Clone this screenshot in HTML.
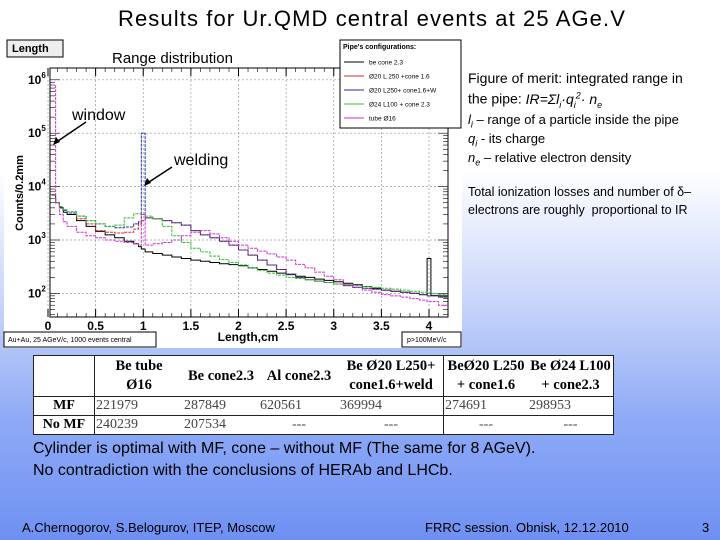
<!DOCTYPE html>
<html><head><meta charset="utf-8">
<style>
body{margin:0;width:720px;height:540px;overflow:hidden;position:relative;font-family:"Liberation Sans",sans-serif;
background:linear-gradient(180deg,#ffffff 0px,#ffffff 170px,#c9d6fb 300px,#8eaaf6 420px,#6f90f2 540px);}
.t{position:absolute;white-space:nowrap;color:#000}
table{border-collapse:collapse;font-family:"Liberation Serif",serif}
</style></head><body>
<div class="t" style="left:0;width:744px;text-align:center;top:6px;font-size:22px;letter-spacing:1.1px">Results for Ur.QMD central events at 25 AGe.V</div>

<svg style="position:absolute;left:0;top:0" width="470" height="352" id="chart"></svg>

<div class="t" style="left:468px;top:70px;font-size:14px">Figure of merit: integrated range in</div>
<div class="t" style="left:468px;top:90px;font-size:14px">the pipe: <i>IR=Σl<sub style="font-size:9px">i</sub>·q<sub style="font-size:9px">i</sub><sup style="font-size:9px">2</sup>· n<sub style="font-size:9px">e</sub></i></div>
<div class="t" style="left:468px;top:112px;font-size:13px"><i>l<sub style="font-size:9px">i</sub></i> – range of a particle inside the pipe</div>
<div class="t" style="left:468px;top:131px;font-size:13px"><i>q<sub style="font-size:9px">i</sub></i> - its charge</div>
<div class="t" style="left:468px;top:150px;font-size:13px"><i>n<sub style="font-size:9px">e</sub></i> – relative electron density</div>
<div class="t" style="left:468px;top:185px;font-size:12.5px">Total ionization losses and number of δ–</div>
<div class="t" style="left:468px;top:203px;font-size:12.5px">electrons are roughly&nbsp; proportional to IR</div>

<table style="position:absolute;left:33px;top:355px;width:581px;background:#fff;border:1.5px solid #222">
<tr style="height:40px;font-weight:bold;font-size:14.5px;text-align:center;line-height:19px">
<td style="width:58px;border-right:1px solid #222"></td>
<td style="width:86px;vertical-align:top">Be tube<br>Ø16</td>
<td style="width:74px">Be cone2.3</td>
<td style="width:78px">Al cone2.3</td>
<td style="width:102px;border-right:1px solid #222">Be Ø20 L250+<br>cone1.6+weld</td>
<td style="width:82px;vertical-align:top">BeØ20 L250<br>+ cone1.6</td>
<td style="vertical-align:bottom">Be Ø24 L100<br>+ cone2.3</td></tr>
<tr style="height:19px;font-size:14px;color:#444;border-top:1px solid #222"><td style="border-right:1px solid #222;text-align:center;font-weight:bold;color:#000">MF</td><td>221979</td><td>287849</td><td>620561</td><td style="border-right:1px solid #222">369994</td><td>274691</td><td>298953</td></tr>
<tr style="height:17px;font-size:14px;color:#444;border-top:1px solid #222"><td style="border-right:1px solid #222;text-align:center;font-weight:bold;color:#000">No MF</td><td>240239</td><td>207534</td><td style="text-align:center">---</td><td style="border-right:1px solid #222;text-align:center">---</td><td style="text-align:center">---</td><td style="text-align:center">---</td></tr>
</table>

<div class="t" style="left:33px;top:440px;font-size:16px">Cylinder is optimal with MF, cone – without MF (The same for 8 AGeV).</div>
<div class="t" style="left:33px;top:462px;font-size:16px">No contradiction with the conclusions of HERAb and LHCb.</div>
<div class="t" style="left:22px;top:520px;font-size:13px">A.Chernogorov, S.Belogurov, ITEP, Moscow</div>
<div class="t" style="left:425px;top:520px;font-size:13px">FRRC session. Obnisk, 12.12.2010</div>
<div class="t" style="left:702px;top:520px;font-size:13px">3</div>

<script>
const edges=[0.04,0.08,0.12,0.16,0.2,0.3,0.4,0.5,0.6,0.7,0.8,0.9,0.95,0.98,1.02,1.1,1.2,1.3,1.4,1.5,1.6,1.7,1.8,1.9,2.0,2.1,2.2,2.3,2.4,2.5,2.6,2.7,2.8,2.9,3.0,3.1,3.2,3.3,3.4,3.5,3.6,3.7,3.8,3.9,3.98,4.02,4.1];
const beCone=[7000,5000,4000,3300,3000,2300,1800,1450,1250,1100,950,850,750,680,600,560,520,480,450,420,400,380,360,345,330,300,280,260,240,225,210,200,185,175,165,155,145,135,125,115,110,105,100,95,450,92,90];
const d20Cone=[6000,5000,4200,3600,3200,2500,2000,1500,1400,1350,1400,1600,2000,2300,2600,2500,2300,2100,1900,1500,1250,1100,950,800,650,520,420,340,280,230,200,180,170,160,150,140,130,125,120,115,110,105,100,95,90,90,85];
const d20ConeW=[6000,5000,4200,3600,3200,2800,2300,2000,1800,1700,1750,2000,2200,100000,2600,2500,2300,2100,1900,1500,1250,1100,950,800,650,520,420,340,280,230,200,180,170,160,150,140,130,125,120,115,110,105,100,95,90,90,85];
const d24Cone=[6000,5000,4200,3700,3400,2800,2300,2000,1800,1900,2600,3100,3100,3000,2800,2500,1800,1200,900,700,600,500,430,380,340,300,270,240,220,200,190,180,170,160,150,145,140,135,130,125,120,115,110,105,100,100,95];
const tube16=[800000,5000,3000,2200,1800,1400,1200,1100,1000,950,900,850,800,3000,800,850,900,1000,1200,1400,1500,1300,1100,950,800,700,620,550,480,420,350,300,250,210,180,150,130,115,105,95,90,85,80,75,70,70,60];
const xTicks=[0,0.5,1,1.5,2,2.5,3,3.5,4];
const yTicks=[2,3,4,5,6];
const legendLabels=["be cone 2.3","Ø20 L 250 +cone 1.6","Ø20 L250+ cone1.6+W","Ø24 L100 + cone 2.3","tube Ø16"];
const seriesColors=["#000","#d03030","#2030a0","#30c030","#d030d0"];

const svg=document.getElementById('chart');const NS="http://www.w3.org/2000/svg";
const X=v=>48+v*95.25, Y=v=>240-(Math.log10(v)-3)*53.4;
function el(t,a,p){const e=document.createElementNS(NS,t);for(const k in a)e.setAttribute(k,a[k]);(p||svg).appendChild(e);return e;}
function txt(x,y,s,sz,extra){const e=el('text',Object.assign({x:x,y:y,'font-size':sz,'font-family':'Liberation Sans, sans-serif'},extra||{}));e.textContent=s;return e;}
let bg=el('rect',{x:4,y:37,width:458,height:311,fill:'#fff'});


let fr=el('rect',{x:50,y:68,width:398,height:249,fill:'#fff',stroke:'#000','stroke-width':1});


xTicks.forEach(v=>{const g=el('line',{x1:X(v),x2:X(v),y1:68,y2:317,stroke:'#999','stroke-dasharray':'2,2','stroke-width':0.7});


const t=txt(X(v),330,String(v),12,{'text-anchor':'middle','font-weight':'bold'});


el('line',{x1:X(v),x2:X(v),y1:317,y2:309,stroke:'#000'});el('line',{x1:X(v),x2:X(v),y1:68,y2:76,stroke:'#000'});});
for(let v=0.1;v<4.2;v+=0.1){el('line',{x1:X(v),x2:X(v),y1:317,y2:313,stroke:'#000','stroke-width':0.6});el('line',{x1:X(v),x2:X(v),y1:68,y2:72,stroke:'#000','stroke-width':0.6});}
yTicks.forEach(p=>{const v=Math.pow(10,p);const g=el('line',{x1:50,x2:448,y1:Y(v),y2:Y(v),stroke:'#999','stroke-dasharray':'2,2','stroke-width':0.7});


const t=txt(28,Y(v)+4,'10',12,{'font-weight':'bold'});


const s=el('tspan',{dy:-6,'font-size':8});s.textContent=String(p);t.appendChild(s);
for(let m=1;m<10;m++){const yy=Y(v*m);if(yy<68)break;const L=m==1?10:5;el('line',{x1:50,x2:50+L,y1:yy,y2:yy,stroke:'#000','stroke-width':0.6});el('line',{x1:448,x2:448-L,y1:yy,y2:yy,stroke:'#000','stroke-width':0.6});}});
for(let m=2;m<10;m++){const yy=Y(m*10);if(yy<=317){el('line',{x1:50,x2:55,y1:yy,y2:yy,stroke:'#000','stroke-width':0.6});el('line',{x1:448,x2:443,y1:yy,y2:yy,stroke:'#000','stroke-width':0.6});}}
const series=[beCone,d20Cone,d20ConeW,d24Cone,tube16];
const names=['series-be-cone','series-d20-cone','series-d20-cone-w','series-d24-cone','series-tube16'];
series.forEach((vals,i)=>{let d='';for(let k=0;k<vals.length;k++){const x0=X(edges[k]),x1=X(k+1<edges.length?edges[k+1]:4.2);const y=Math.min(317,Math.max(68,Y(vals[k])));d+=(k?'L':'M')+x0+','+y+'L'+x1+','+y;}
const p=el('path',{d:d,fill:'none',stroke:seriesColors[i],'stroke-width':1,'stroke-dasharray':i==0?'':'3,1'});

});
let lg=el('rect',{x:340,y:40,width:121,height:88,fill:'#fff',stroke:'#000'});


let lt=txt(343,49,"Pipe's configurations:",7,{'font-weight':'bold'});


legendLabels.forEach((s,i)=>{const y=62+i*14;el('line',{x1:344,x2:364,y1:y,y2:y,stroke:seriesColors[i]});
const t=txt(369,y+2.5,s,6.5);

});
let lb=el('rect',{x:7,y:40,width:56,height:17,fill:'#eee',stroke:'#000'});


txt(12,52,'Length',11,{'font-weight':'bold'});
let rt=txt(112,63,'Range distribution',15);


let yl=txt(0,0,'Counts/0.2mm',11,{'font-weight':'bold','text-anchor':'middle',transform:'translate(23,193) rotate(-90)'});


let xl=txt(248,341,'Length,cm',12,{'font-weight':'bold','text-anchor':'middle'});


el('rect',{x:4,y:332,width:152,height:15,fill:'#fff',stroke:'#000'});
txt(8,342,'Au+Au, 25 AGeV/c, 1000 events central',7);
el('rect',{x:402,y:332,width:59,height:15,fill:'#fff',stroke:'#000'});
txt(407,342,'p>100MeV/c',7);
let w=txt(72,120,'window',16);


el('line',{x1:86,y1:122,x2:55,y2:143,stroke:'#000','stroke-width':1.5});
el('path',{d:'M53,145 L56,137 L60,142 Z',fill:'#000'});
let wl=txt(174,165,'welding',16);


el('line',{x1:172,y1:167,x2:146,y2:184,stroke:'#000','stroke-width':1.5});
el('path',{d:'M144,186 L147,178 L151,183 Z',fill:'#000'});
</script>
</body></html>
